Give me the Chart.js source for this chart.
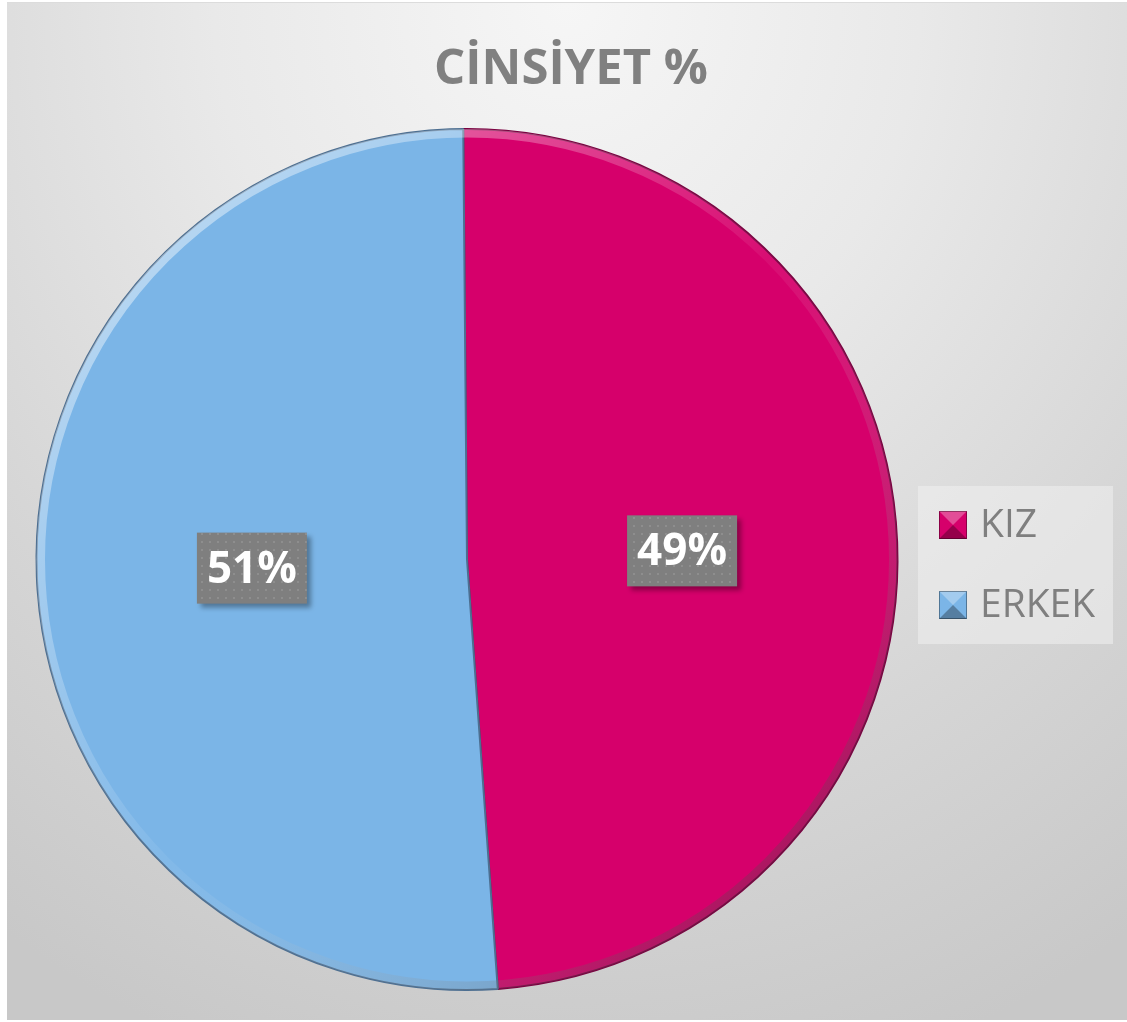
<!DOCTYPE html>
<html>
<head>
<meta charset="utf-8">
<script src="https://cdn.jsdelivr.net/npm/chart.js@4/dist/chart.umd.min.js"></script>
<style>
    html, body { margin: 0; padding: 0; background: #ffffff; }
    #wrap {
        position: absolute;
        left: 7px;
        top: 2px;
        width: 1120px;
        height: 1018px;
        background: radial-gradient(ellipse 90% 110% at 50% 0%, #f6f6f6 0%, #e9e9e9 35%, #d6d6d6 70%, #c8c8c8 100%);
        border-top: 1px solid #dcdcdc;
        box-sizing: border-box;
    }
</style>
</head>
<body>
<div id="wrap"><canvas id="chartCinsiyet"></canvas></div>
<script>
// Datos
const titulo = 'CİNSİYET %';
const categorias = ['KIZ', 'ERKEK'];
const valores = [49, 51];
const etiquetas = ['49%', '51%'];
const colores = ['#d6006b', '#7bb5e7'];
const bordes = ['#7a0040', '#4d6f91'];

// Patrón punteado para las etiquetas
function patronPuntos(ctx) {
    const p = document.createElement('canvas');
    p.width = 8; p.height = 8;
    const c = p.getContext('2d');
    c.fillStyle = '#7f7f7f';
    c.fillRect(0, 0, 8, 8);
    c.fillStyle = '#8e8e8e';
    c.fillRect(2, 2, 2, 2);
    return ctx.createPattern(p, 'repeat');
}

// Título, bisel, etiquetas y leyenda
const extras = {
    id: 'extras',
    afterDatasetsDraw(chart) {
        const ctx = chart.ctx;
        const arc = chart.getDatasetMeta(0).data[0];
        const cx = arc.x, cy = arc.y, r = arc.outerRadius;

        // bisel del borde exterior
        ctx.save();
        ctx.beginPath();
        ctx.arc(cx, cy, r, 0, Math.PI * 2);
        ctx.clip();
        const g = ctx.createLinearGradient(cx - r, cy - r, cx + r, cy + r);
        g.addColorStop(0, 'rgba(255,255,255,0.6)');
        g.addColorStop(0.5, 'rgba(255,255,255,0.05)');
        g.addColorStop(1, 'rgba(0,0,0,0.4)');
        ctx.strokeStyle = g;
        ctx.lineWidth = 9;
        ctx.beginPath();
        ctx.arc(cx, cy, r - 4, 0, Math.PI * 2);
        ctx.stroke();
        ctx.restore();

        // etiquetas de datos
        const pat = patronPuntos(ctx);
        chart.getDatasetMeta(0).data.forEach((el, i) => {
            const pos = el.tooltipPosition();
            const w = 110, h = 71;
            ctx.save();
            ctx.shadowColor = 'rgba(0,0,0,0.35)';
            ctx.shadowOffsetX = 4;
            ctx.shadowOffsetY = 4;
            ctx.shadowBlur = 5;
            ctx.fillStyle = pat;
            ctx.fillRect(pos.x - w / 2, pos.y - h / 2, w, h);
            ctx.restore();
            ctx.save();
            ctx.fillStyle = '#ffffff';
            ctx.font = 'bold 44px "Open Sans"';
            ctx.textAlign = 'center';
            ctx.textBaseline = 'middle';
            ctx.fillText(etiquetas[i], pos.x, pos.y + 2);
            ctx.restore();
        });
    },
    afterDraw(chart) {
        const ctx = chart.ctx;

        // título
        ctx.save();
        ctx.fillStyle = '#808080';
        ctx.font = 'bold 49px "Open Sans"';
        ctx.textAlign = 'center';
        ctx.textBaseline = 'middle';
        ctx.fillText(titulo, 564, 67);
        ctx.restore();

        // leyenda
        ctx.save();
        ctx.fillStyle = 'rgba(240,240,240,0.55)';
        ctx.fillRect(911, 483, 195, 158);
        ctx.font = '39px "Open Sans"';
        ctx.textBaseline = 'middle';
        categorias.forEach((cat, i) => {
            const y = 522 + i * 80;
            const x = 932;
            ctx.fillStyle = colores[i];
            ctx.fillRect(x, y - 14, 28, 28);
            // bisel del marcador
            ctx.fillStyle = 'rgba(255,255,255,0.3)';
            ctx.beginPath();
            ctx.moveTo(x, y - 14); ctx.lineTo(x + 28, y - 14); ctx.lineTo(x + 14, y); ctx.closePath();
            ctx.fill();
            ctx.fillStyle = 'rgba(0,0,0,0.3)';
            ctx.beginPath();
            ctx.moveTo(x, y + 14); ctx.lineTo(x + 28, y + 14); ctx.lineTo(x + 14, y); ctx.closePath();
            ctx.fill();
            ctx.strokeStyle = 'rgba(0,0,0,0.35)';
            ctx.lineWidth = 1;
            ctx.strokeRect(x + 0.5, y - 13.5, 27, 27);
            ctx.fillStyle = '#7f7f7f';
            ctx.fillText(cat, 973, y + 1);
        });
        ctx.restore();
    }
};

new Chart(document.getElementById('chartCinsiyet'), {
    type: 'pie',
    data: {
        labels: categorias,
        datasets: [{
            data: valores,
            backgroundColor: colores,
            borderColor: bordes,
            borderWidth: 2,
            hoverOffset: 0
        }]
    },
    options: {
        responsive: true,
        maintainAspectRatio: false,
        animation: false,
        rotation: -0.5,
        layout: {
            padding: { left: 28, right: 228, top: 125, bottom: 29 }
        },
        plugins: {
            legend: { display: false },
            tooltip: { enabled: false },
            title: { display: false }
        }
    },
    plugins: [extras]
});
</script>
</body>
</html>
